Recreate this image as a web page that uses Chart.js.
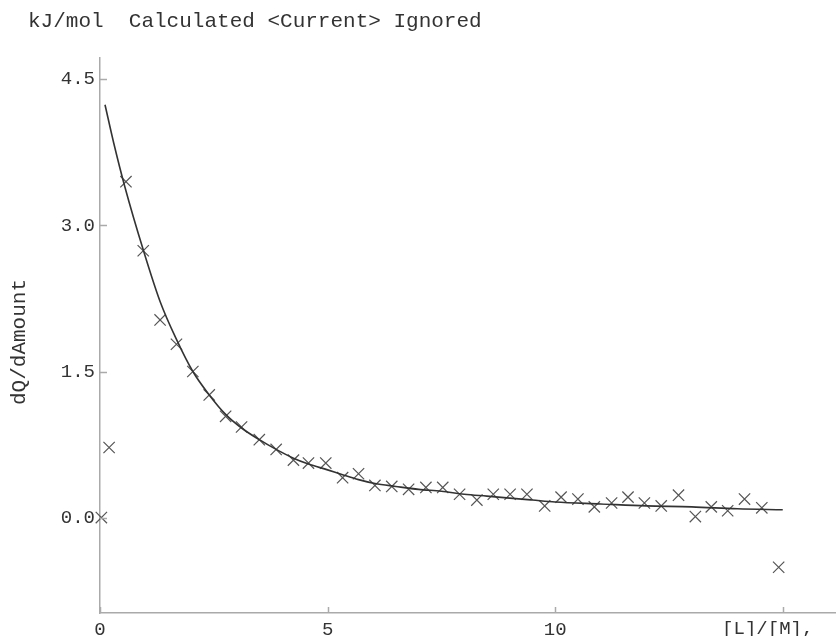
<!DOCTYPE html>
<html>
<head>
<meta charset="utf-8">
<script src="https://cdn.jsdelivr.net/npm/chart.js@4"></script>
<style>
  html, body { margin: 0; padding: 0; background: #fff; }
  #wrap { width: 836px; height: 636px; }
</style>
</head>
<body>
<div id="wrap"><canvas id="titration-chart" width="836" height="636"></canvas></div>
<script>
// Injection heats (x = [L]/[M] ratio, y = dQ/dAmount)
const ratio = [0.03, 0.20, 0.57, 0.95, 1.32, 1.68, 2.04, 2.40, 2.76, 3.11, 3.50, 3.87, 4.25, 4.58, 4.96,
  5.33, 5.68, 6.04, 6.41, 6.78, 7.16, 7.53, 7.90, 8.28, 8.64, 9.01, 9.38, 9.77, 10.13, 10.50,
  10.86, 11.24, 11.60, 11.96, 12.33, 12.71, 13.08, 13.43, 13.79, 14.16, 14.54, 14.91];
const heat = [0.00, 0.72, 3.45, 2.74, 2.03, 1.78, 1.50, 1.26, 1.04, 0.93, 0.80, 0.70, 0.59, 0.56, 0.56,
  0.41, 0.45, 0.33, 0.32, 0.29, 0.31, 0.31, 0.24, 0.18, 0.24, 0.24, 0.24, 0.12, 0.21, 0.19,
  0.11, 0.15, 0.21, 0.15, 0.12, 0.23, 0.01, 0.11, 0.07, 0.19, 0.10, -0.51];

// Calculated binding curve
const fitRatio = [0.11, 0.30, 0.55, 0.95, 1.32, 1.68, 2.04, 2.40, 2.76, 3.11, 3.50, 3.87, 4.25, 4.58, 5.00,
  5.33, 5.68, 6.04, 6.50, 7.00, 7.50, 8.00, 8.50, 9.00, 9.50, 10.00, 11.00, 12.00, 13.00, 14.00, 15.00];
const fitHeat = [4.24, 3.85, 3.39, 2.75, 2.22, 1.83, 1.50, 1.26, 1.06, 0.92, 0.80, 0.70, 0.61, 0.55, 0.49,
  0.44, 0.39, 0.35, 0.32, 0.29, 0.27, 0.24, 0.22, 0.20, 0.18, 0.16, 0.14, 0.12, 0.11, 0.09, 0.08];

const yTicks = [0.0, 1.5, 3.0, 4.5];
const xTicks = [0, 5, 10, 15];

const MONO = "'Liberation Mono', 'DejaVu Sans Mono', monospace";
const INK = "#333";
const AXIS = "#aaa";

// text and inward tick marks, drawn after the chart
const decorations = {
  id: "decorations",
  afterDraw(chart) {
    const ctx = chart.ctx;
    const xs = chart.scales.x;
    const ys = chart.scales.y;
    const area = chart.chartArea;
    ctx.save();

    ctx.strokeStyle = AXIS;
    ctx.lineWidth = 1.5;
    ctx.beginPath();
    yTicks.forEach(function(v) {
      const py = Math.round(ys.getPixelForValue(v)) + 0.5;
      ctx.moveTo(area.left, py);
      ctx.lineTo(area.left + 7, py);
    });
    xTicks.forEach(function(v) {
      const px = Math.round(xs.getPixelForValue(v)) + 0.5;
      ctx.moveTo(px, area.bottom);
      ctx.lineTo(px, area.bottom - 6);
    });
    ctx.stroke();

    ctx.fillStyle = INK;
    ctx.font = "21px " + MONO;
    ctx.textAlign = "left";
    ctx.textBaseline = "alphabetic";
    ctx.fillText("kJ/mol  Calculated <Current> Ignored", 28, 27);

    ctx.font = "19px " + MONO;
    ctx.textAlign = "center";
    ctx.textBaseline = "top";
    ctx.fillText("[L]/[M],", xs.getPixelForValue(14.67), area.bottom + 6);

    ctx.translate(19, 342);
    ctx.rotate(-Math.PI / 2);
    ctx.font = "21px " + MONO;
    ctx.textBaseline = "middle";
    ctx.fillText("dQ/dAmount", 0, 0);
    ctx.restore();
  }
};

const ctx = document.getElementById("titration-chart").getContext("2d");
new Chart(ctx, {
  type: "scatter",
  data: {
    datasets: [
      {
        label: "Calculated",
        data: fitRatio.map((x, i) => ({ x: x, y: fitHeat[i] })),
        showLine: true,
        borderColor: INK,
        borderWidth: 1.6,
        pointRadius: 0,
        cubicInterpolationMode: "monotone",
        fill: false
      },
      {
        label: "Current",
        data: ratio.map((x, i) => ({ x: x, y: heat[i] })),
        pointStyle: "crossRot",
        pointRadius: 8,
        borderColor: "#555",
        borderWidth: 1.2,
        backgroundColor: "#555",
        clip: false
      }
    ]
  },
  options: {
    responsive: false,
    animation: false,
    layout: { autoPadding: false, padding: { top: 58, right: 0, left: 0, bottom: 0 } },
    plugins: {
      legend: { display: false },
      tooltip: { enabled: false }
    },
    scales: {
      x: {
        type: "linear",
        min: 0,
        max: 16.17,
        afterBuildTicks: function(scale) {
          scale.ticks = xTicks.map(v => ({ value: v }));
        },
        afterFit: function(scale) {
          scale.height = 23;
          // the axis runs right up to the canvas edge
          scale.paddingLeft = 0;
          scale.paddingRight = 0;
        },
        grid: { drawOnChartArea: false, drawTicks: true, tickLength: 6, tickColor: "rgba(0,0,0,0)" },
        border: { color: AXIS, width: 1.5 },
        ticks: {
          padding: 0,
          color: INK,
          font: { family: MONO, size: 19 },
          maxRotation: 0,
          callback: v => (v === 15 ? "" : String(v))
        }
      },
      y: {
        type: "linear",
        min: -0.98,
        max: 4.72,
        afterBuildTicks: function(scale) {
          scale.ticks = yTicks.map(v => ({ value: v }));
        },
        afterFit: function(scale) { scale.width = 100; },
        grid: { drawOnChartArea: false, drawTicks: false },
        border: { color: AXIS, width: 1.5 },
        ticks: {
          padding: 5,
          color: INK,
          font: { family: MONO, size: 19 },
          callback: v => v.toFixed(1)
        }
      }
    }
  },
  plugins: [decorations]
});
</script>
</body>
</html>
